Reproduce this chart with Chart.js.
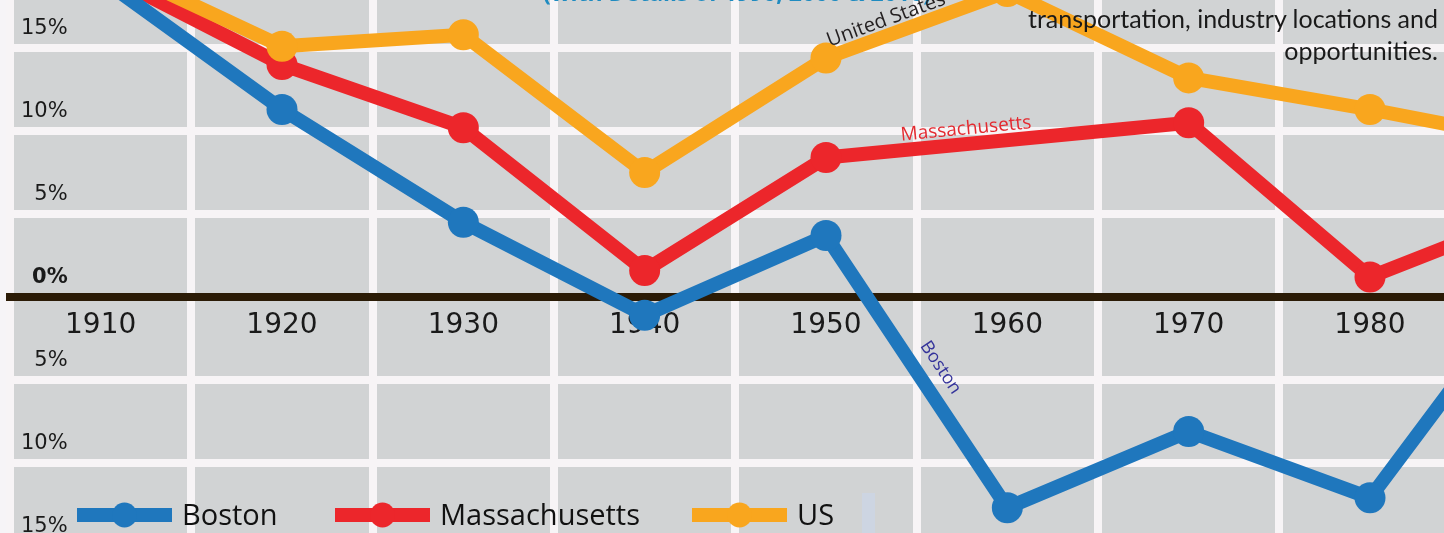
<!DOCTYPE html>
<html>
<head>
<meta charset="utf-8">
<script src="https://cdn.jsdelivr.net/npm/chart.js@4.4.1/dist/chart.umd.min.js"></script>
<style>
html, body { margin: 0; padding: 0; width: 1444px; height: 533px; overflow: hidden; background: #f6f4f7; }
#wrap { position: relative; width: 1444px; height: 533px; overflow: hidden; }
#chart { position: absolute; left: 0; top: -118px; }
#note { position: absolute; right: 6px; top: 2px; text-align: right; font: 25px/32px Lato, sans-serif; color: #1a1a1a; }
#mark { position: absolute; left: 862px; top: 493px; width: 13px; height: 40px; background: #cdd5e2; }
</style>
</head>
<body>
<div id="wrap">
  <canvas id="chart" width="1642" height="747"></canvas>
  <div id="note">transportation, industry locations and<br>opportunities.</div>
  <div id="mark"></div>
</div>
<script>
// population change per decade, %
const years = ['1910', '1920', '1930', '1940', '1950', '1960', '1970', '1980', '1990'];
const boston = [19.2, 11.3, 4.5, -1.1, 3.7, -12.7, -8.1, -12.1, 2.5];
const massachusetts = [19.6, 14.0, 10.2, 1.6, 8.4, null, 10.5, 1.2, 5.5];
const us = [20.2, 15.1, 15.8, 7.5, 14.4, 18.4, 13.2, 11.3, 9.2];

const yMin = -20;
const yMax = 25;
const yStep = 5;

const blue = '#1f77bd';
const red = '#ec262b';
const orange = '#f9a61e';
const gridColor = '#f7f4f6';

// canvas sits 118px above the page
const shiftY = 118;

// gray plot background
const bgPlugin = {
    id: 'bg',
    beforeDraw(chart) {
        const {ctx, chartArea} = chart;
        ctx.save();
        ctx.fillStyle = '#d1d3d4';
        ctx.fillRect(chartArea.left, chartArea.top, chartArea.right - chartArea.left, chartArea.bottom - chartArea.top);
        ctx.restore();
    },
    beforeDatasetsDraw(chart) {
        // cut-off heading at the top, sits under the lines
        const ctx = chart.ctx;
        ctx.save();
        ctx.font = 'bold 23px "Open Sans"';
        ctx.fillStyle = '#1f8bc0';
        ctx.textBaseline = 'alphabetic';
        ctx.fillText('(with Details of 1990, 2000 & 2010)', 543, shiftY + 1);
        ctx.restore();
    }
};

// series names written along the lines
const lineNotes = [
    {ds: 2, from: 4, to: 5, t: 0.36, off: -15, text: 'United States', color: '#231f20', font: '20px "Open Sans"'},
    {ds: 1, from: 4, to: 6, t: 0.39, off: -15, text: 'Massachusetts', color: '#e42a30', font: '19px "Open Sans"'},
    {ds: 0, from: 4, to: 5, t: 0.53, off: -22, text: 'Boston', color: '#35349b', font: '18px "Open Sans"'}
];

const notesPlugin = {
    id: 'notes',
    afterDatasetsDraw(chart) {
        const ctx = chart.ctx;
        lineNotes.forEach(n => {
            const pts = chart.getDatasetMeta(n.ds).data;
            const a = pts[n.from], b = pts[n.to];
            const x = a.x + (b.x - a.x) * n.t;
            const y = a.y + (b.y - a.y) * n.t;
            ctx.save();
            ctx.translate(x, y);
            ctx.rotate(Math.atan2(b.y - a.y, b.x - a.x));
            ctx.font = n.font;
            ctx.fillStyle = n.color;
            ctx.textAlign = 'center';
            ctx.textBaseline = 'middle';
            ctx.fillText(n.text, 0, n.off);
            ctx.restore();
        });
    }
};

// legend drawn over the plot at the bottom
const legendX = [77, 335, 692];
const legendPlugin = {
    id: 'lineLegend',
    afterDraw(chart) {
        const ctx = chart.ctx;
        const y = 515 + shiftY;
        chart.data.datasets.forEach((ds, i) => {
            const x = legendX[i];
            ctx.save();
            ctx.strokeStyle = ds.borderColor;
            ctx.fillStyle = ds.borderColor;
            ctx.lineWidth = 14;
            ctx.beginPath();
            ctx.moveTo(x, y);
            ctx.lineTo(x + 95, y);
            ctx.stroke();
            ctx.beginPath();
            ctx.arc(x + 47.5, y, 12.5, 0, Math.PI * 2);
            ctx.fill();
            ctx.font = '29px "Open Sans"';
            ctx.fillStyle = '#111';
            ctx.textBaseline = 'alphabetic';
            ctx.fillText(ds.label, x + 105, 525 + shiftY);
            ctx.restore();
        });
    }
};

function noPadding(scale) {
    scale.paddingTop = 0;
    scale.paddingBottom = 0;
    scale.paddingLeft = 0;
    scale.paddingRight = 0;
}

const chart = new Chart(document.getElementById('chart'), {
    type: 'line',
    data: {
        labels: years,
        datasets: [{
            label: 'Boston',
            data: boston,
            borderColor: blue,
            backgroundColor: blue,
            order: 2
        }, {
            label: 'Massachusetts',
            data: massachusetts,
            borderColor: red,
            backgroundColor: red,
            spanGaps: true,
            order: 3
        }, {
            label: 'US',
            data: us,
            borderColor: orange,
            backgroundColor: orange,
            order: 1
        }]
    },
    options: {
        responsive: false,
        animation: false,
        events: [],
        layout: {
            autoPadding: false,
            padding: {left: 10, top: 0, right: 0, bottom: 0}
        },
        elements: {
            line: {borderWidth: 14, tension: 0, borderJoinStyle: 'round'},
            point: {radius: 15.5, hoverRadius: 15.5, borderWidth: 0}
        },
        plugins: {
            legend: {display: false},
            tooltip: {enabled: false}
        },
        scales: {
            x: {
                type: 'category',
                position: {y: 0},
                offset: true,
                grid: {offset: true, color: gridColor, lineWidth: 8, drawTicks: false},
                border: {color: '#2b1b06', width: 8},
                ticks: {
                    color: '#1a1a1a',
                    font: {family: 'DejaVu Sans', size: 28},
                    padding: 12,
                    maxRotation: 0,
                    autoSkip: false
                },
                afterFit: noPadding
            },
            y: {
                position: 'left',
                min: yMin,
                max: yMax,
                grid: {color: gridColor, lineWidth: 8, drawTicks: false},
                border: {display: false},
                ticks: {
                    stepSize: yStep,
                    mirror: true,
                    crossAlign: 'far',
                    padding: 11,
                    labelOffset: -19,
                    color: '#1a1a1a',
                    font: ctx => ({
                        family: 'DejaVu Sans',
                        size: 21,
                        weight: ctx.tick && ctx.tick.value === 0 ? 'bold' : 'normal'
                    }),
                    callback: v => Math.abs(v) + '%'
                },
                afterFit: scale => {
                    scale.width = 0;
                    noPadding(scale);
                }
            }
        }
    },
    plugins: [bgPlugin, notesPlugin, legendPlugin]
});
</script>
</body>
</html>
